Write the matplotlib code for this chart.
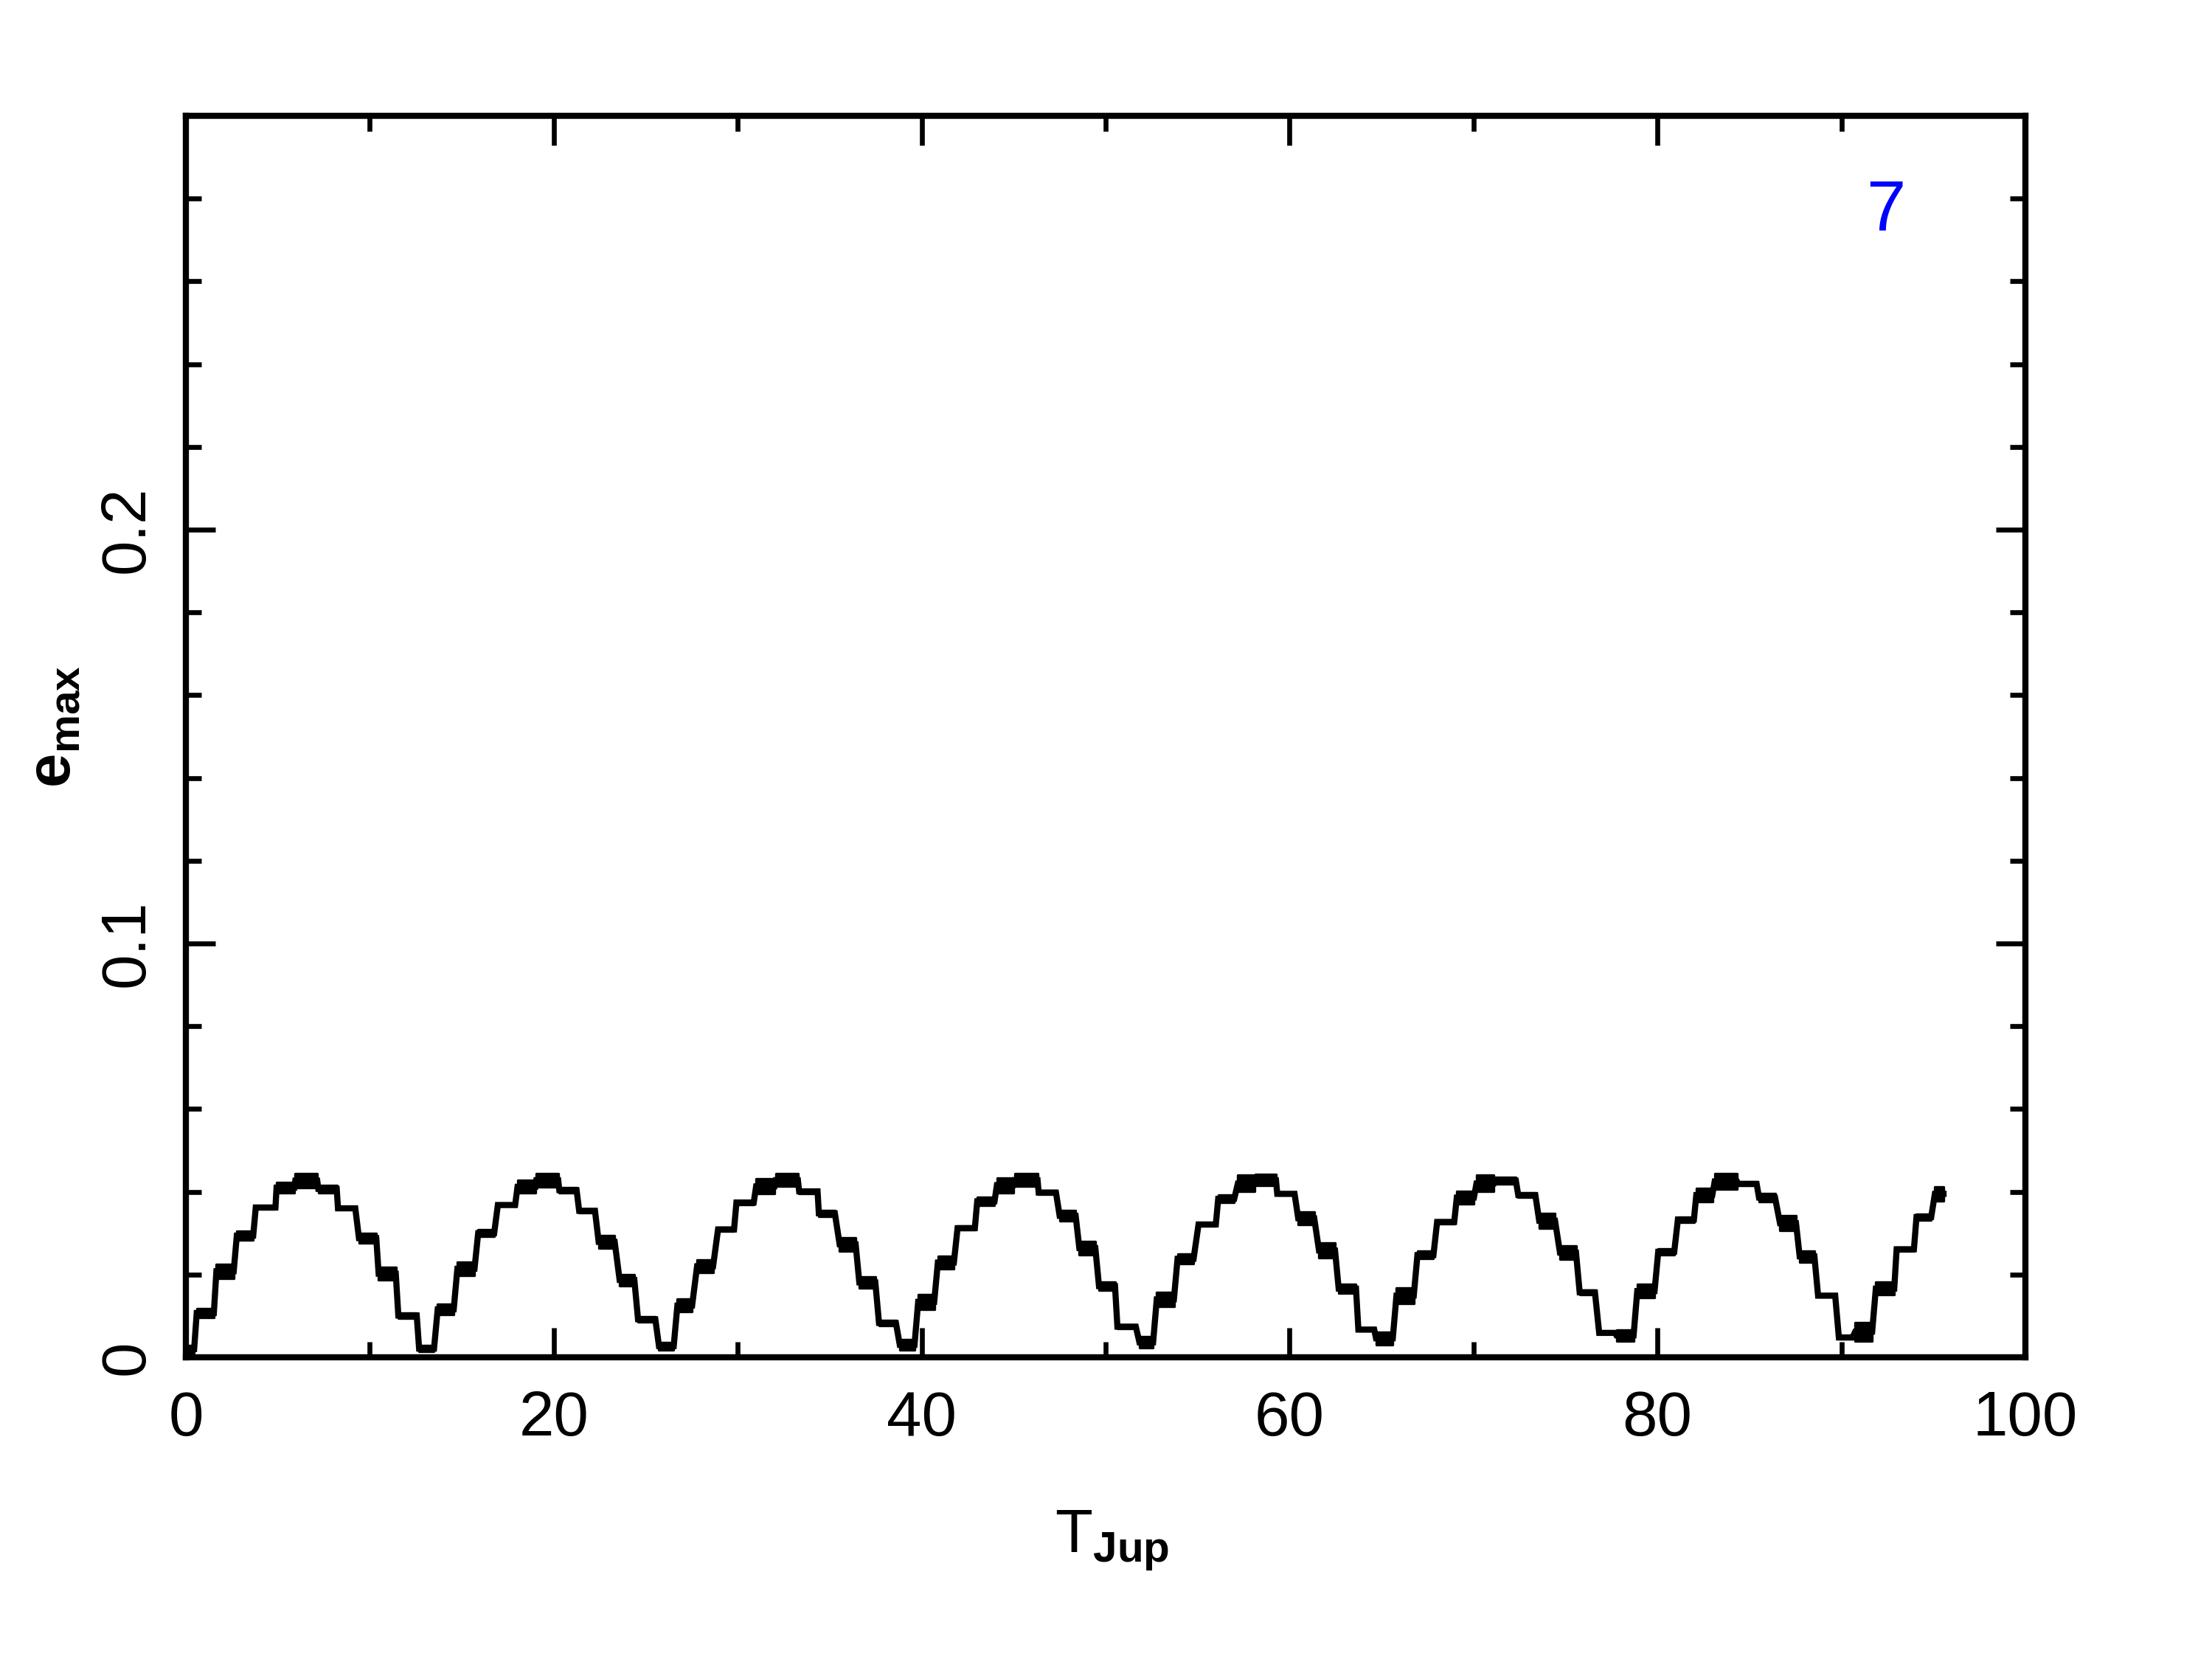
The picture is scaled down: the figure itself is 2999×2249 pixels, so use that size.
import numpy as np
import matplotlib
matplotlib.use("Agg")
import matplotlib.pyplot as plt
from matplotlib.ticker import MultipleLocator, FixedLocator, FuncFormatter

plt.rcParams['font.family'] = ['Liberation Sans', 'DejaVu Sans']
plt.rcParams['mathtext.fontset'] = 'custom'
plt.rcParams['mathtext.rm'] = 'Liberation Sans'
plt.rcParams['mathtext.it'] = 'Liberation Sans:italic'
plt.rcParams['mathtext.bf'] = 'Liberation Sans:bold'

# ---- data: plateaus of the e_max curve ----
plateau_start = [0.00, 0.59, 1.66, 2.77, 3.80, 4.93, 5.95, 7.20, 8.27, 9.41, 10.48, 11.55, 12.68,
                 13.69, 14.76, 15.89, 16.96, 18.03, 19.05, 20.30, 21.38, 22.44, 23.58, 24.58, 25.72,
                 26.72, 27.79, 28.93, 29.93, 31.00, 32.07, 33.34, 34.41, 35.54, 36.61, 37.68, 38.81,
                 39.81, 40.88, 41.95, 43.02, 44.09, 45.05, 46.36, 47.50, 48.57, 49.64, 50.64, 51.84,
                 52.78, 53.91, 55.05, 56.12, 57.19, 58.15, 59.33, 60.47, 61.60, 62.67, 63.74, 64.70,
                 65.81, 66.95, 68.02, 69.09, 70.16, 71.15, 72.43, 73.57, 74.70, 75.77, 76.83, 77.77,
                 78.90, 80.04, 81.11, 82.11, 83.11, 84.39, 85.52, 86.66, 87.73, 88.73, 89.86, 90.75,
                 91.87, 93.00, 94.08, 95.08]
plateau_end = [0.45, 1.52, 2.60, 3.66, 4.87, 5.90, 7.14, 8.20, 9.21, 10.35, 11.41, 12.55, 13.49,
               14.56, 15.69, 16.76, 17.90, 19.00, 20.24, 21.24, 22.24, 23.31, 24.38, 25.52, 26.52,
               27.52, 28.66, 29.80, 30.87, 32.00, 33.27, 34.34, 35.28, 36.41, 37.48, 38.60, 39.61,
               40.68, 41.75, 42.89, 43.96, 44.98, 46.30, 47.30, 48.37, 49.44, 50.51, 51.64, 52.58,
               53.71, 54.78, 55.99, 56.99, 58.10, 59.26, 60.27, 61.34, 62.47, 63.61, 64.60, 65.61,
               66.75, 67.82, 68.95, 70.02, 71.10, 72.30, 73.36, 74.43, 75.57, 76.60, 77.70, 78.70,
               79.84, 80.91, 81.98, 82.98, 84.32, 85.39, 86.39, 87.53, 88.53, 89.66, 90.60, 91.67,
               92.87, 93.94, 94.88, 95.55]
plateau_level = [0.0020, 0.0107, 0.0208, 0.0294, 0.0362, 0.0410, 0.0427, 0.0407, 0.0360, 0.0288, 0.0202, 0.0101, 0.0021,
                 0.0116, 0.0214, 0.0300, 0.0368, 0.0412, 0.0428, 0.0404, 0.0354, 0.0279, 0.0187, 0.0092, 0.0027,
                 0.0125, 0.0220, 0.0309, 0.0374, 0.0413, 0.0428, 0.0401, 0.0348, 0.0273, 0.0181, 0.0083, 0.0030,
                 0.0134, 0.0229, 0.0312, 0.0377, 0.0416, 0.0428, 0.0398, 0.0342, 0.0264, 0.0172, 0.0074, 0.0036,
                 0.0140, 0.0238, 0.0321, 0.0383, 0.0420, 0.0428, 0.0395, 0.0336, 0.0258, 0.0166, 0.0067, 0.0046,
                 0.0149, 0.0247, 0.0327, 0.0386, 0.0420, 0.0427, 0.0392, 0.0330, 0.0253, 0.0157, 0.0059, 0.0053,
                 0.0160, 0.0255, 0.0333, 0.0392, 0.0425, 0.0419, 0.0386, 0.0324, 0.0244, 0.0149, 0.0048, 0.0062,
                 0.0166, 0.0261, 0.0339, 0.0395]
# peak-to-peak width of the fast oscillation on each plateau
plateau_spread = [0.0018, 0.0021, 0.0033, 0.0021, 0.0006, 0.0024, 0.0033, 0.0018, 0.0003, 0.0024, 0.0030, 0.0012, 0.0015,
                  0.0024, 0.0033, 0.0015, 0.0006, 0.0030, 0.0033, 0.0012, 0.0009, 0.0030, 0.0027, 0.0012, 0.0018,
                  0.0030, 0.0030, 0.0009, 0.0009, 0.0036, 0.0030, 0.0009, 0.0015, 0.0033, 0.0027, 0.0012, 0.0024,
                  0.0036, 0.0030, 0.0009, 0.0018, 0.0036, 0.0030, 0.0009, 0.0024, 0.0033, 0.0021, 0.0009, 0.0027,
                  0.0033, 0.0024, 0.0006, 0.0018, 0.0039, 0.0027, 0.0006, 0.0030, 0.0036, 0.0021, 0.0006, 0.0030,
                  0.0036, 0.0018, 0.0009, 0.0030, 0.0039, 0.0015, 0.0012, 0.0036, 0.0033, 0.0012, 0.0003, 0.0027,
                  0.0033, 0.0015, 0.0012, 0.0033, 0.0036, 0.0009, 0.0018, 0.0036, 0.0027, 0.0006, 0.0006, 0.0045,
                  0.0030, 0.0009, 0.0015, 0.0033]

x_major = [0, 20, 40, 60, 80, 100]
y_major = [0, 0.1, 0.2]
x_label = r'$\mathrm{T}_{\mathbf{Jup}}$'
y_label = r'$\mathbf{e}_{\mathbf{max}}$'
panel_tag = '7'

# ---- figure ----
W, H = 2999, 2249
fig = plt.figure(figsize=(W / 300, H / 300), dpi=300)
ax = fig.add_axes([252 / W, 1 - 1840 / H, (2746 - 252) / W, (1840 - 157) / H])

xs, ys = [], []
for a, b, lv in zip(plateau_start, plateau_end, plateau_level):
    xs += [a, b]
    ys += [lv, lv]
ax.plot(xs, ys, color='black', lw=2.0, solid_joinstyle='miter', zorder=3)
for a, b, lv, s in zip(plateau_start, plateau_end, plateau_level, plateau_spread):
    ax.fill_between([a, b], [lv - s / 2] * 2, [lv + s / 2] * 2, color='black', lw=0.8,
                    edgecolor='black', zorder=3)

ax.set_xlim(0, 100)
ax.set_ylim(0, 0.3)
ax.xaxis.set_major_locator(FixedLocator(x_major))
ax.xaxis.set_minor_locator(MultipleLocator(10))
ax.yaxis.set_major_locator(FixedLocator(y_major))
ax.yaxis.set_minor_locator(MultipleLocator(0.02))
ax.xaxis.set_major_formatter(FuncFormatter(lambda v, p: '%g' % v))
ax.yaxis.set_major_formatter(FuncFormatter(lambda v, p: '%g' % v))

for sp in ax.spines.values():
    sp.set_linewidth(2.0)
ax.tick_params(which='both', direction='in', top=True, right=True, width=1.6, color='black')
ax.tick_params(which='major', length=9.5)
ax.tick_params(which='minor', length=5)
ax.tick_params(axis='x', which='major', labelsize=20.5, pad=10.5)
ax.tick_params(axis='y', which='major', labelsize=20.5, pad=9.5, labelrotation=90)
for lab in ax.get_yticklabels():
    lab.set_va('center')

fig.text(1508 / W, 1 - 2105 / H, x_label, fontsize=20, ha='center', va='baseline')
fig.text(73 / W, 1 - 985 / H, y_label, fontsize=20, ha='center', va='center', rotation=90)
fig.text(2557 / W, 1 - 312 / H, panel_tag, fontsize=23, color='#0000ff', ha='center', va='baseline')

fig.savefig('out.png', dpi=300, facecolor='white')
